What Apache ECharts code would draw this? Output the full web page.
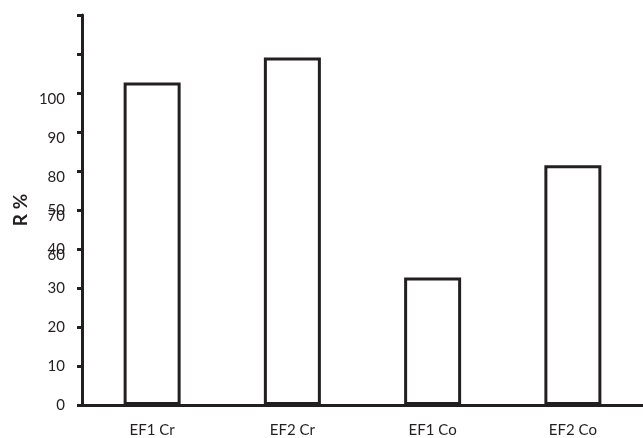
<!DOCTYPE html>
<html>
<head>
<meta charset="utf-8">
<script src="https://cdn.jsdelivr.net/npm/echarts@6/dist/echarts.min.js"></script>
<style>
  html, body { margin: 0; padding: 0; background: #fff; }
  #chart { width: 643px; height: 438px; }
</style>
</head>
<body>
<div id="chart"></div>
<script>
// data
var categories = ['EF1 Cr', 'EF2 Cr', 'EF1 Co', 'EF2 Co'];
var values = [82.7, 89.1, 32.7, 61.5];
// the axis labels in the figure are printed in two overlapping runs
var lowLabels = [0, 10, 20, 30, 40, 50];
var highLabels = [60, 70, 80, 90, 100];

var ink = '#231f20';
var font = 'Lato';

var myChart = echarts.init(document.getElementById('chart'));

var option = {
    backgroundColor: '#fff',
    animation: false,
    grid: {
        left: 82,
        top: 15,
        width: 570,
        bottom: 33
    },
    xAxis: {
        type: 'category',
        data: categories,
        z: 5,
        axisLine: { lineStyle: { color: ink, width: 3 } },
        axisTick: { length: 7, lineStyle: { color: ink, width: 3 } },
        axisLabel: { color: ink, fontFamily: font, fontSize: 15, margin: 18 },
        splitLine: { show: false }
    },
    yAxis: [{
        type: 'value',
        min: 0,
        max: 100,
        interval: 10,
        name: 'R %',
        nameLocation: 'middle',
        nameGap: 52,
        nameTextStyle: { color: ink, fontFamily: font, fontSize: 19, fontWeight: 'bold' },
        axisLine: { show: true, lineStyle: { color: ink, width: 3 } },
        axisTick: { show: true, length: 5, lineStyle: { color: ink, width: 3 } },
        axisLabel: {
            color: ink, fontFamily: font, fontSize: 15, margin: 17,
            customValues: lowLabels
        },
        splitLine: { show: false }
    }, {
        type: 'value',
        position: 'left',
        min: 21.5,
        max: 121.5,
        axisLine: { show: false },
        axisTick: { show: false },
        axisLabel: {
            color: ink, fontFamily: font, fontSize: 15, margin: 17,
            customValues: highLabels
        },
        splitLine: { show: false }
    }],
    series: [{
        type: 'bar',
        yAxisIndex: 0,
        barWidth: 57,
        data: values,
        itemStyle: {
            color: '#fff',
            borderColor: ink,
            borderWidth: 3
        }
    }]
};

myChart.setOption(option);
</script>
</body>
</html>
